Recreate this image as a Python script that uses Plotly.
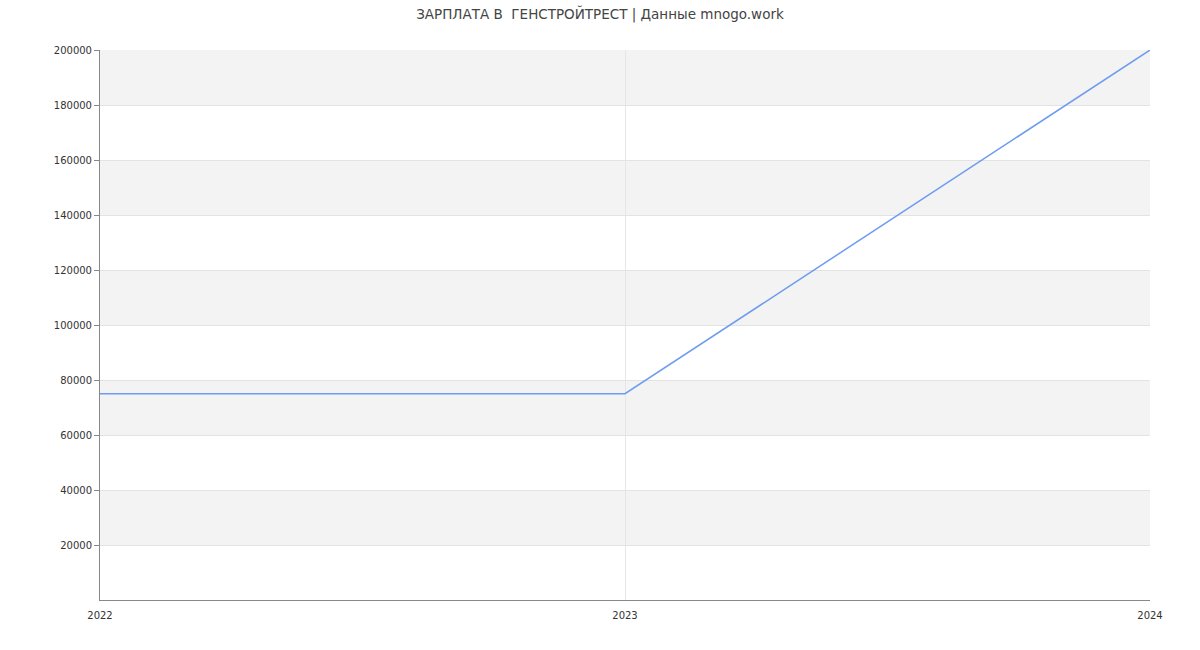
import plotly.graph_objects as go

years = [2022, 2023, 2024]
salary = [75000, 75000, 200000]
y_ticks = [20000, 40000, 60000, 80000, 100000, 120000, 140000, 160000, 180000, 200000]
title_text = "ЗАРПЛАТА В  ГЕНСТРОЙТРЕСТ | Данные mnogo.work"

fig = go.Figure()
fig.add_trace(go.Scatter(x=years, y=salary, mode="lines",
                         line=dict(color="#6d9cf0", width=1.5),
                         hoverinfo="x+y", showlegend=False))

# alternating bands
bands = [(y_ticks[i], y_ticks[i] + 20000) for i in range(0, len(y_ticks) - 1, 2)]
for lo, hi in bands:
    fig.add_shape(type="rect", xref="paper", yref="y", x0=0, x1=1, y0=lo, y1=hi,
                  fillcolor="#f3f3f3", line=dict(width=0), layer="below")

font = "DejaVu Sans, sans-serif"
fig.update_layout(
    width=1200, height=650,
    margin=dict(l=100, r=50, t=50, b=50),
    paper_bgcolor="white", plot_bgcolor="white",
    title=dict(text=title_text, x=0.5, xanchor="center", y=0.985, yanchor="top",
               font=dict(family=font, size=13.5, color="#444")),
    font=dict(family=font, size=11, color="#333"),
    xaxis=dict(range=[2022, 2024], tickvals=years, ticktext=[str(y) for y in years],
               showgrid=True, gridcolor="#e6e6e6", gridwidth=1,
               showline=True, linecolor="#888", linewidth=1,
               ticks="outside", ticklen=6, tickcolor="rgba(0,0,0,0)",
               zeroline=False, tickfont=dict(size=10)),
    yaxis=dict(range=[0, 200000], tickvals=y_ticks, ticktext=[str(v) for v in y_ticks],
               showgrid=True, gridcolor="#e3e3e3", gridwidth=1,
               showline=True, linecolor="#888", linewidth=1,
               ticks="outside", ticklen=5, tickcolor="#888",
               zeroline=False, tickfont=dict(size=10)),
)
fig.write_html("out.html")
